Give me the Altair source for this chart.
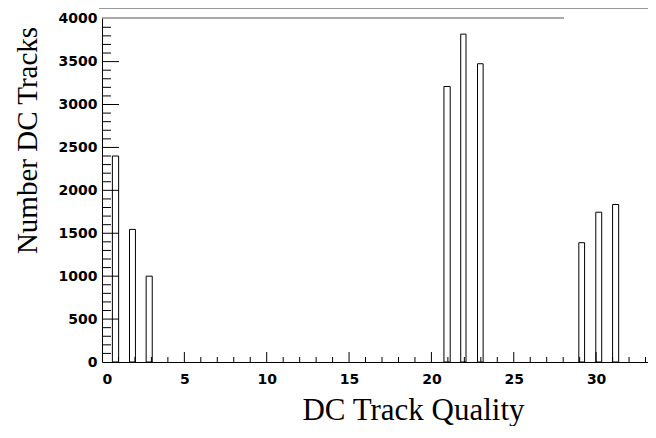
import altair as alt
import pandas as pd

# ---- data ----
qualities = [1, 2, 3, 21, 22, 23, 29, 30, 31]
counts = [2400, 1545, 1000, 3210, 3820, 3475, 1390, 1745, 1835]
bin_lo = [0.63, 1.67, 2.68, 20.76, 21.78, 22.80, 28.95, 29.98, 31.00]
bin_hi = [1.01, 2.03, 3.05, 21.14, 22.10, 23.14, 29.30, 30.34, 31.37]

x_labels = [0, 5, 10, 15, 20, 25, 30]
y_labels = [0, 500, 1000, 1500, 2000, 2500, 3000, 3500, 4000]
x_major = [5, 10, 15, 20, 25, 30]
x_minor = [v for v in range(1, 34) if v % 5 != 0]
y_major = [500, 1000, 1500, 2000, 2500, 3000, 3500]
y_minor = [v for v in range(100, 4000, 100) if v % 500 != 0]

X_DOMAIN = [0, 33.15]
Y_DOMAIN = [0, 4008]

bars = pd.DataFrame({"q": qualities, "n": counts, "lo": bin_lo, "hi": bin_hi})

xs = alt.Scale(domain=X_DOMAIN, nice=False, zero=False)
ys = alt.Scale(domain=Y_DOMAIN, nice=False)

label_font = "DejaVu Sans"
title_font = "Liberation Serif"

x_axis = alt.Axis(
    values=x_labels, format="d", ticks=False, grid=False, domain=True, domainColor="#000000",
    domainWidth=1, labelFont=label_font, labelFontWeight="bold", labelFontSize=14,
    labelColor="#000000", labelPadding=10, labelBaseline="top",
    title="DC Track Quality", titleFont=title_font, titleFontWeight="normal",
    titleFontSize=31, titleColor="#000000", titleX=311, titleY=57,
    titleAnchor="middle", titleAlign="center", titleBaseline="alphabetic",
)
y_axis = alt.Axis(
    values=y_labels, format="d", ticks=False, grid=False, domain=True, domainColor="#000000",
    domainWidth=1, labelFont=label_font, labelFontWeight="bold", labelFontSize=14,
    labelColor="#000000", labelPadding=5, labelBaseline="middle",
    title="Number DC Tracks", titleFont=title_font, titleFontWeight="normal",
    titleFontSize=29, titleColor="#000000", titleX=-66, titleY=122,
    titleAngle=270, titleAlign="center", titleBaseline="alphabetic",
)

bar_layer = alt.Chart(bars).mark_rect(fill="white", stroke="#000000", strokeWidth=1).encode(
    x=alt.X("lo:Q", scale=xs, axis=x_axis),
    x2="hi:Q",
    y=alt.Y("n:Q", scale=ys, axis=y_axis),
    y2=alt.datum(0),
)

ymaj = alt.Chart(pd.DataFrame({"v": y_major})).mark_rule(color="#000000", strokeWidth=1).encode(
    y=alt.Y("v:Q", scale=ys), x=alt.value(0), x2=alt.value(17)
)
ymin = alt.Chart(pd.DataFrame({"v": y_minor})).mark_rule(color="#000000", strokeWidth=1).encode(
    y=alt.Y("v:Q", scale=ys), x=alt.value(0), x2=alt.value(9)
)
xmaj = alt.Chart(pd.DataFrame({"v": x_major})).mark_rule(color="#000000", strokeWidth=1).encode(
    x=alt.X("v:Q", scale=xs), y=alt.value(344), y2=alt.value(334)
)
xmin = alt.Chart(pd.DataFrame({"v": x_minor})).mark_rule(color="#000000", strokeWidth=1).encode(
    x=alt.X("v:Q", scale=xs), y=alt.value(344), y2=alt.value(339)
)

one = pd.DataFrame({"a": [0]})
line_a = alt.Chart(one).mark_rule(color="#333333", strokeWidth=1).encode(
    x=alt.value(-3), x2=alt.value(546), y=alt.value(-10)
)
line_b = alt.Chart(one).mark_rule(color="#555555", strokeWidth=1).encode(
    x=alt.value(0), x2=alt.value(462), y=alt.value(0)
)

chart = alt.layer(bar_layer, ymaj, ymin, xmaj, xmin, line_a, line_b).properties(
    width=546, height=344,
    padding={"left": 94, "top": 10, "right": 0, "bottom": 64},
    autosize=alt.AutoSizeParams(type="none"),
    background="white",
).configure_view(stroke=None)

chart.save("out.html", embed_options={"renderer": "svg", "actions": False})
